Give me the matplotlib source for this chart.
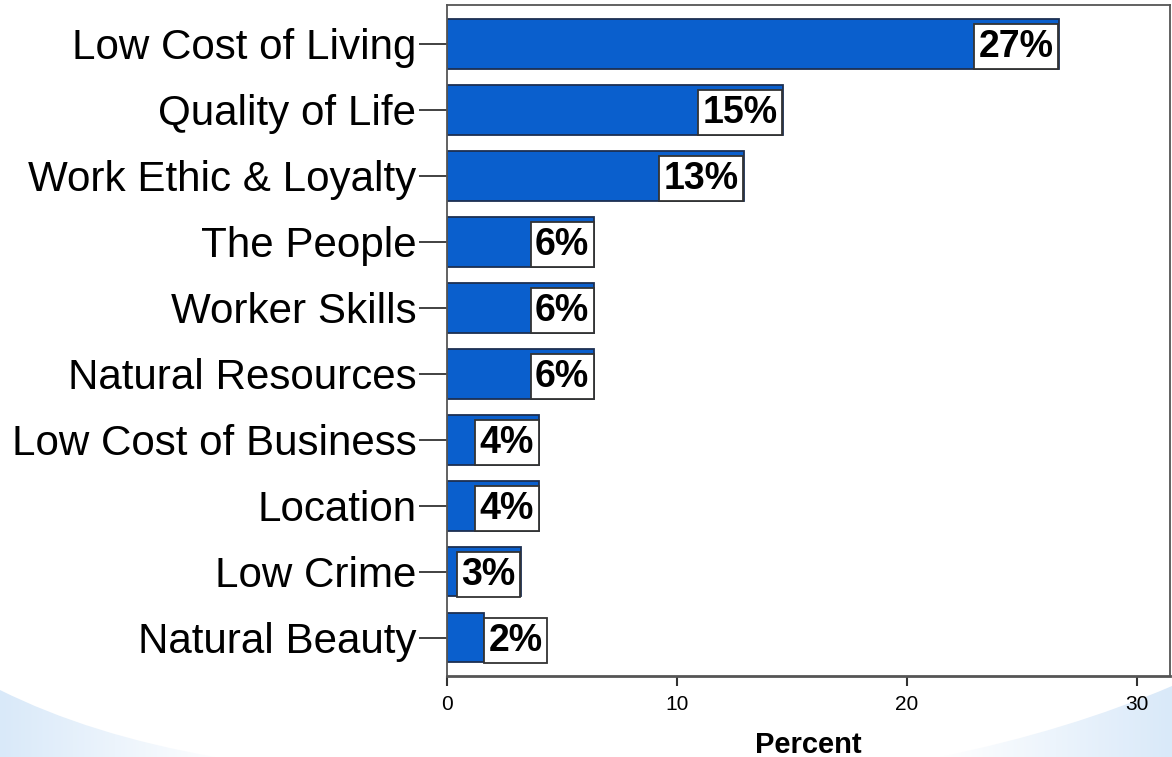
import numpy as np
import matplotlib.pyplot as plt
from matplotlib.path import Path
from matplotlib.patches import PathPatch
from matplotlib.colors import LinearSegmentedColormap
from matplotlib.transforms import ScaledTranslation

plt.rcParams['font.family'] = ['Liberation Sans', 'DejaVu Sans']

categories = ['Low Cost of Living', 'Quality of Life', 'Work Ethic & Loyalty',
              'The People', 'Worker Skills', 'Natural Resources',
              'Low Cost of Business', 'Location', 'Low Crime', 'Natural Beauty']
percent = [26.6, 14.6, 12.9, 6.4, 6.4, 6.4, 4.0, 4.0, 3.2, 1.6]
xticks = [0, 10, 20, 30]

fig = plt.figure(figsize=(11.72, 7.57), dpi=100)

# light blue swooshes in the bottom corners (pixel coords)
bg = fig.add_axes([0, 0, 1, 1], zorder=-1)
bg.axis('off')
fade = LinearSegmentedColormap.from_list('fade', ['#ffffff', '#d9e9f9'])


def swoosh(verts, codes, x0, x1, reverse):
    patch = PathPatch(Path(verts, codes), facecolor='none', edgecolor='none')
    bg.add_patch(patch)
    g = np.linspace(0, 1, 256)[None, :]
    if reverse:
        g = g[:, ::-1]
    im = bg.imshow(g, cmap=fade, extent=[x0, x1, 757, 670], aspect='auto')
    im.set_clip_path(patch)


swoosh([(0, 690), (90, 735), (215, 757), (0, 757), (0, 690)],
       [Path.MOVETO, Path.CURVE3, Path.CURVE3, Path.LINETO, Path.CLOSEPOLY],
       0, 230, True)
swoosh([(940, 757), (1070, 730), (1172, 686), (1172, 757), (940, 757)],
       [Path.MOVETO, Path.CURVE3, Path.CURVE3, Path.LINETO, Path.CLOSEPOLY],
       940, 1172, False)
bg.set_xlim(0, 1172)
bg.set_ylim(757, 0)

ax = fig.add_axes([447 / 1172, 1 - 676 / 757, 723 / 1172, 671 / 757])
ax.set_facecolor('white')
y = np.arange(len(categories))
ax.barh(y, percent, height=0.75, color='#0a5fcd', edgecolor='#1c2f52',
        linewidth=1.3, zorder=2)

for i, v in enumerate(percent):
    inside = v > 2.5
    ax.annotate(f'{v:.0f}%', xy=(v, i), xytext=(-3.5 if inside else 3.5, -2),
                textcoords='offset points', ha='right' if inside else 'left',
                va='center', fontsize=27, fontweight='bold', zorder=3,
                bbox=dict(boxstyle='square,pad=0.12', facecolor='white',
                          edgecolor='#333333', linewidth=1.3))

ax.set_xlim(0, 31.45)
ax.set_ylim(9.58, -0.59)
ax.set_yticks(y)
ax.set_yticklabels(categories, fontsize=30.3)
# category names sit a little below the tick marks
shift = ScaledTranslation(0, -4 / 100, fig.dpi_scale_trans)
for lab in ax.get_yticklabels():
    lab.set_transform(lab.get_transform() + shift)
ax.set_xticks(xticks)
ax.set_xticklabels([str(t) for t in xticks], fontsize=15)
ax.tick_params(axis='y', length=20, width=1.3, color='#333333', pad=2)
ax.tick_params(axis='x', length=7, width=1.5, color='#333333', pad=7)
for s in ax.spines.values():
    s.set_color('#555555')
    s.set_linewidth(1.3)
ax.spines['bottom'].set_linewidth(2)
ax.set_xlabel('Percent', fontsize=21, fontweight='bold', labelpad=12)

fig.savefig('out.png', dpi=100)
